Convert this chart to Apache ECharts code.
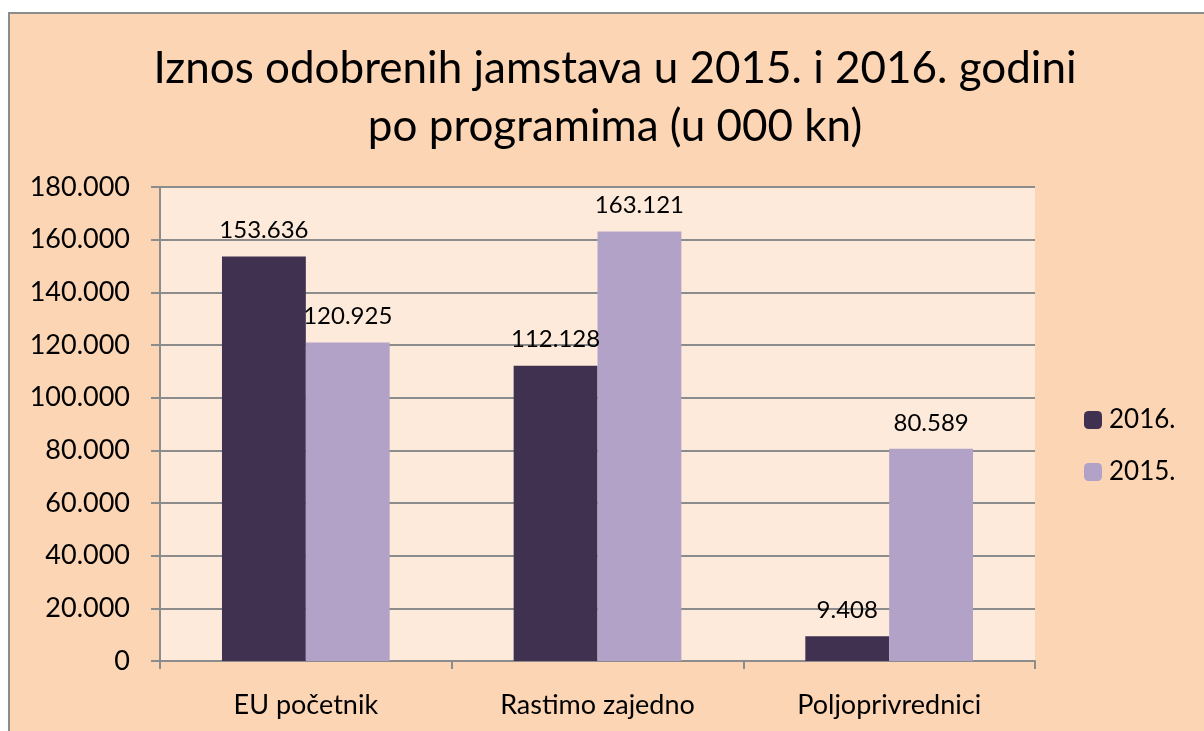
<!DOCTYPE html>
<html><head><meta charset="utf-8">
<script src="https://cdn.jsdelivr.net/npm/echarts@6/dist/echarts.min.js"></script>
<style>html,body{margin:0;padding:0;background:#fff}#c{width:1204px;height:731px}</style>
</head><body><div id="c"></div>
<script>
const titleText = 'Iznos odobrenih jamstava u 2015. i 2016. godini\npo programima (u 000 kn)';
const categories = ['EU početnik', 'Rastimo zajedno', 'Poljoprivrednici'];
const seriesNames = ['2016.', '2015.'];
const values2016 = [153636, 112128, 9408];
const values2015 = [120925, 163121, 80589];
const colors = ['#403151', '#B3A2C7'];

function fmt(v){ return String(Math.round(v)).replace(/\B(?=(\d{3})+(?!\d))/g, '.'); }
const FONT = 'Lato, Carlito, "Open Sans", sans-serif';

const chart = echarts.init(document.getElementById('c'), null, {renderer:'canvas'});
chart.setOption({
  backgroundColor: '#ffffff',
  animation: false,
  textStyle: {fontFamily: FONT, color: '#000'},
  graphic: [{
    type: 'rect', left: 8, top: 12, z: -10, silent: true,
    shape: {width: 1300, height: 800},
    style: {fill: '#FCD5B5', stroke: '#8c8c8c', lineWidth: 2}
  }],
  title: {
    text: titleText, left: 610, top: 35, textAlign: 'center',
    textStyle: {fontFamily: FONT, fontSize: 44, fontWeight: 'normal', color: '#000', lineHeight: 58}
  },
  legend: {
    orient: 'vertical', left: 1079, top: 402, itemWidth: 18, itemHeight: 18, itemGap: 26,
    textStyle: {fontFamily: FONT, fontSize: 26, color: '#000', padding: [0,0,0,2]},
    data: seriesNames
  },
  grid: {left: 160, top: 187, width: 875, height: 474, show: true, backgroundColor: '#FDEADA', borderWidth: 0},
  xAxis: {
    type: 'category', data: categories,
    axisLine: {lineStyle: {color: '#8c8c8c', width: 2}},
    axisTick: {show: true, length: 8, lineStyle: {color: '#8c8c8c', width: 2}},
    axisLabel: {fontFamily: FONT, fontSize: 27, color: '#000', margin: 31}
  },
  yAxis: {
    type: 'value', min: 0, max: 180000, interval: 20000,
    axisLine: {show: true, lineStyle: {color: '#8c8c8c', width: 2}},
    axisTick: {show: true, length: 9, lineStyle: {color: '#8c8c8c', width: 2}},
    splitLine: {lineStyle: {color: '#8c8c8c', width: 2}},
    axisLabel: {fontFamily: FONT, fontSize: 27, color: '#000', margin: 30, formatter: fmt}
  },
  series: [
    {name: seriesNames[0], type: 'bar', data: values2016, barGap: '0%', barCategoryGap: '42.5%',
     itemStyle: {color: colors[0]},
     label: {show: true, position: 'top', distance: 14, fontFamily: FONT, fontSize: 24, color: '#000', formatter: p => fmt(p.value)}},
    {name: seriesNames[1], type: 'bar', data: values2015, barGap: '0%', barCategoryGap: '42.5%',
     itemStyle: {color: colors[1]},
     label: {show: true, position: 'top', distance: 14, fontFamily: FONT, fontSize: 24, color: '#000', formatter: p => fmt(p.value)}}
  ]
});
</script></body></html>
